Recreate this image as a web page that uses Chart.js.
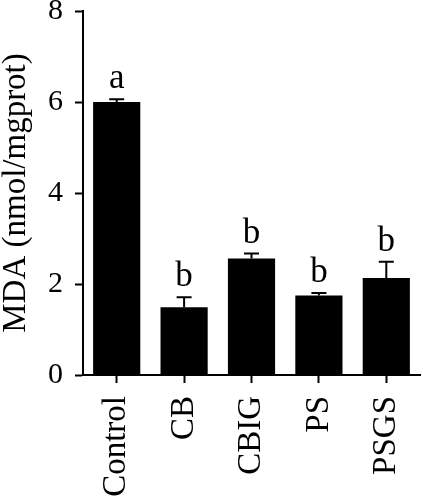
<!DOCTYPE html>
<html>
<head>
<meta charset="utf-8">
<script src="https://cdn.jsdelivr.net/npm/chart.js@4"></script>
<style>
  html, body { margin: 0; padding: 0; background: #fff; }
  #wrap { width: 423px; height: 500px; }
</style>
</head>
<body>
<div id="wrap"><canvas id="mdaChart" width="423" height="500"></canvas></div>
<script>
// Données
const groups = ['Control', 'CB', 'CBIG', 'PS', 'PSGS'];
const mdaValues = [6.0, 1.49, 2.56, 1.75, 2.13];
const mdaErrors = [0.06, 0.22, 0.11, 0.05, 0.36];
const sigLetters = ['a', 'b', 'b', 'b', 'b'];
const yTicks = [0, 2, 4, 6, 8];

const serif = '"Liberation Serif", "DejaVu Serif", serif';

// Barres d'erreur (côté haut seulement)
const errorBars = {
    id: 'errorBars',
    afterDatasetsDraw(chart) {
        const ctx = chart.ctx;
        const y = chart.scales.y;
        const meta = chart.getDatasetMeta(0);
        ctx.save();
        ctx.strokeStyle = '#000';
        ctx.lineWidth = 2;
        meta.data.forEach((bar, i) => {
            const top = y.getPixelForValue(mdaValues[i] + mdaErrors[i]);
            const base = y.getPixelForValue(mdaValues[i]);
            ctx.beginPath();
            ctx.moveTo(bar.x, base);
            ctx.lineTo(bar.x, top);
            ctx.moveTo(bar.x - 7.5, top);
            ctx.lineTo(bar.x + 7.5, top);
            ctx.stroke();
        });
        ctx.restore();
    }
};

// Lettres de significativité
const letters = {
    id: 'letters',
    afterDatasetsDraw(chart) {
        const ctx = chart.ctx;
        const y = chart.scales.y;
        const meta = chart.getDatasetMeta(0);
        ctx.save();
        ctx.fillStyle = '#000';
        ctx.font = '35px ' + serif;
        ctx.textAlign = 'center';
        ctx.textBaseline = 'alphabetic';
        meta.data.forEach((bar, i) => {
            const top = y.getPixelForValue(mdaValues[i] + mdaErrors[i]);
            ctx.fillText(sigLetters[i], bar.x, top - 11);
        });
        ctx.restore();
    }
};

const chart = new Chart(document.getElementById('mdaChart'), {
    type: 'bar',
    data: {
        labels: groups,
        datasets: [{
            data: mdaValues,
            backgroundColor: '#000',
            borderWidth: 0,
            categoryPercentage: 1.0,
            barPercentage: 0.70
        }]
    },
    options: {
        responsive: false,
        animation: false,
        devicePixelRatio: 1,
        layout: { padding: { top: 11, right: 3, left: 0, bottom: 0 } },
        plugins: {
            legend: { display: false },
            tooltip: { enabled: false }
        },
        scales: {
            x: {
                grid: {
                    display: true,
                    drawOnChartArea: false,
                    offset: false,
                    tickLength: 8,
                    tickWidth: 2,
                    tickColor: '#000'
                },
                border: { display: true, color: '#000', width: 2 },
                ticks: {
                    color: '#000',
                    font: { family: serif, size: 33 },
                    minRotation: 90,
                    maxRotation: 90,
                    padding: 13
                },
                afterFit(s) {
                    s.height = 125;
                    s.paddingLeft = 0;
                    s.paddingRight = 0;
                }
            },
            y: {
                min: 0,
                max: 8,
                afterBuildTicks(s) {
                    s.ticks = yTicks.map(v => ({ value: v }));
                },
                grid: {
                    display: true,
                    drawOnChartArea: false,
                    tickLength: 8,
                    tickWidth: 2,
                    tickColor: '#000'
                },
                border: { display: true, color: '#000', width: 2 },
                ticks: {
                    color: '#000',
                    font: { family: serif, size: 30 },
                    padding: 12
                },
                title: {
                    display: true,
                    text: 'MDA (nmol/mgprot)',
                    color: '#000',
                    font: { family: serif, size: 33, lineHeight: 1 },
                    padding: { top: 0, bottom: 0 }
                },
                afterFit(s) {
                    s.width = 83;
                    s.paddingTop = 0;
                    s.paddingBottom = 0;
                }
            }
        }
    },
    plugins: [errorBars, letters]
});
</script>
</body>
</html>
